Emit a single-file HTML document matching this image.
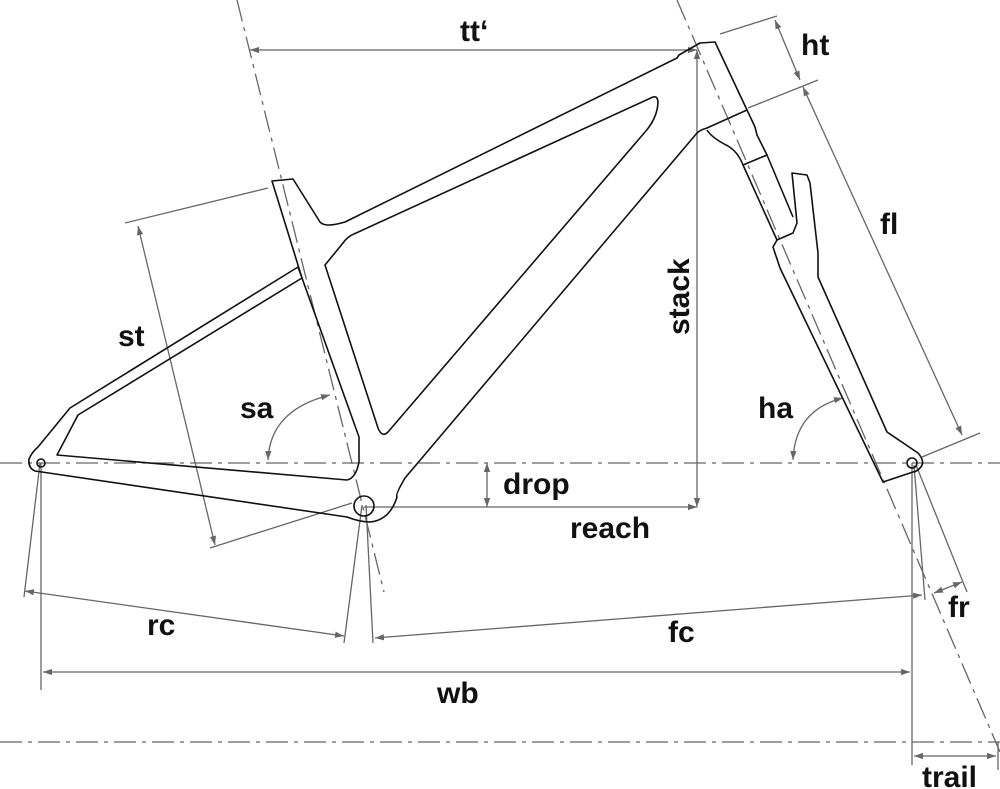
<!DOCTYPE html>
<html><head><meta charset="utf-8"><style>
html,body{margin:0;padding:0;background:#fff;width:1000px;height:789px;overflow:hidden}
svg{display:block}
text{font-family:"Liberation Sans",sans-serif;font-weight:bold;font-size:30px;fill:#111}
</style></head><body>
<svg width="1000" height="789" viewBox="0 0 1000 789" xmlns="http://www.w3.org/2000/svg">
<defs>
<marker id="a" viewBox="0 0 10 10" refX="10" refY="5" markerWidth="9" markerHeight="9" orient="auto-start-reverse" markerUnits="userSpaceOnUse"><path d="M0,1.5 L10,5 L0,8.5 Z" fill="#666"/></marker>
</defs>
<g stroke="#666" stroke-width="1.3" fill="none">
<line x1="0" y1="463" x2="1000" y2="463" stroke-dasharray="22,6,4,6"/>
<line x1="0" y1="742" x2="1000" y2="742" stroke-dasharray="22,6,4,6"/>
<line x1="237" y1="0" x2="384" y2="592" stroke-dasharray="22,6,4,6"/>
<line x1="677" y1="0" x2="1000" y2="752" stroke-dasharray="22,6,4,6"/>
<line x1="250" y1="50" x2="697" y2="50" marker-start="url(#a)" marker-end="url(#a)"/>
<line x1="697" y1="50" x2="697" y2="507" marker-start="url(#a)" marker-end="url(#a)"/>
<line x1="364" y1="507" x2="697" y2="507" marker-end="url(#a)"/>
<line x1="487" y1="463" x2="487" y2="507" marker-start="url(#a)" marker-end="url(#a)"/>
<line x1="720" y1="34" x2="777" y2="16"/>
<line x1="748" y1="108" x2="818" y2="80"/>
<line x1="775" y1="20" x2="800" y2="80" marker-start="url(#a)" marker-end="url(#a)"/>
<line x1="803" y1="87" x2="962" y2="435" marker-start="url(#a)" marker-end="url(#a)"/>
<line x1="922" y1="457" x2="980" y2="433"/>
<line x1="125" y1="223" x2="268" y2="188"/>
<line x1="210" y1="548" x2="352" y2="503"/>
<line x1="138" y1="226" x2="215" y2="545" marker-start="url(#a)" marker-end="url(#a)"/>
<path d="M268,460 Q270,410 330,395" marker-start="url(#a)" marker-end="url(#a)"/>
<path d="M793,460 Q795,410 843,398" marker-start="url(#a)" marker-end="url(#a)"/>
<line x1="41" y1="463" x2="41" y2="690"/>
<line x1="40" y1="463" x2="24" y2="597"/>
<line x1="25" y1="591" x2="344" y2="636" marker-start="url(#a)" marker-end="url(#a)"/>
<line x1="362" y1="505" x2="344" y2="643"/>
<line x1="366" y1="505" x2="373" y2="643"/>
<line x1="375" y1="638" x2="922" y2="595" marker-start="url(#a)" marker-end="url(#a)"/>
<line x1="43" y1="672" x2="910" y2="672" marker-start="url(#a)" marker-end="url(#a)"/>
<line x1="912" y1="463" x2="912" y2="765"/>
<line x1="914" y1="465" x2="925" y2="600"/>
<line x1="916" y1="465" x2="967" y2="592"/>
<line x1="934" y1="593" x2="962" y2="582" marker-start="url(#a)" marker-end="url(#a)"/>
<line x1="914" y1="756" x2="996" y2="756" marker-start="url(#a)" marker-end="url(#a)"/>
<line x1="998" y1="742" x2="998" y2="770"/>
</g>
<g stroke="#111" stroke-width="1.6" fill="none" stroke-linejoin="round">
<path d="M272,181 L293,179 L320,222 Q325,228 345,222 L677,58 L679,55 L700,43 L715,42 L747,110 L707,128 Q700,130 697,133 L405,478 Q395,495 397,497 Q390,520 370,522 Q360,522 347,517 L35,471 Q28,468 29,459 Q32,452 38,447 L70,408 L298,267 L302,278 Z"/>
<path d="M302,278 L359,437 L359,462 Q356,478 347,480 L57,455 L78,415 Z"/>
<path d="M325,265 L343,243 Q348,236 354,234 L653,97 Q660,95 657,110 Q654,122 645,132 L388,432 Q382,438 378,428 Z"/>
<!-- headset -->
<path d="M747,110 L755,127 L757,135 L767,155 L743,165 Q738,152 728,146 Q712,138 707,130"/>
<!-- steerer -->
<path d="M743,165 L777,240"/>
<path d="M767,155 L793,217"/>
<!-- fork leg -->
<path d="M777,240 L793,233 L797,223 L792,173 L807,175 L810,183 L818,253 L818,277 L887,432 L918,453 Q926,462 920,468 Q916,472 913,472 L883,482 L780,268 L773,247 Z"/>
<circle cx="364" cy="506" r="10"/>
<circle cx="41" cy="463" r="4"/>
<circle cx="912" cy="463" r="5"/>
</g>
<text x="460" y="41">tt‘</text>
<text x="801" y="55">ht</text>
<text x="880" y="234">fl</text>
<text x="118" y="346">st</text>
<text x="240" y="418">sa</text>
<text x="758" y="418">ha</text>
<text x="503" y="494">drop</text>
<text x="570" y="538">reach</text>
<text x="147" y="635">rc</text>
<text x="668" y="642">fc</text>
<text x="437" y="703">wb</text>
<text x="948" y="617">fr</text>
<text x="922" y="787">trail</text>
<text transform="translate(689,335) rotate(-90)">stack</text>
</svg>
</body></html>
